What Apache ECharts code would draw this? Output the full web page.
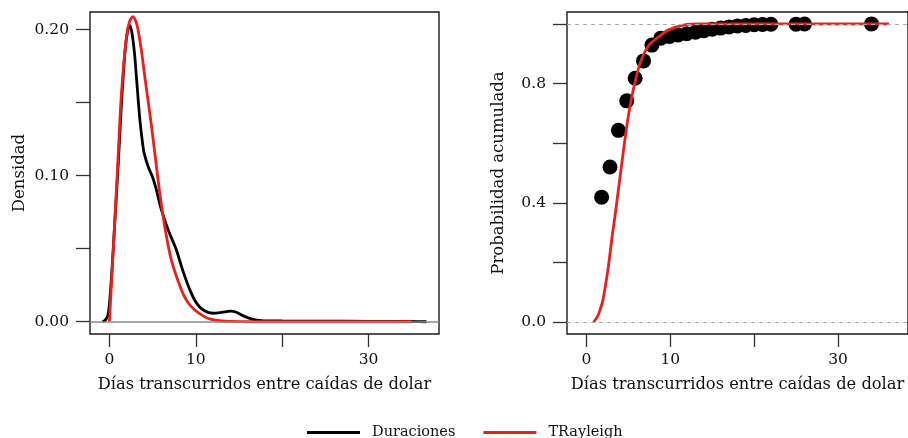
<!DOCTYPE html>
<html><head><meta charset="utf-8">
<script src="https://cdn.jsdelivr.net/npm/echarts@6/dist/echarts.min.js"></script>
<style>html,body{margin:0;padding:0;background:#fff}#c{width:908px;height:438px}</style>
</head><body><div id="c"></div>
<script>
// ---- data ----
const legendNames = ['Duraciones', 'TRayleigh'];
const xTickValues = [0, 10, 20, 30];
const xTickLabels = [0, 10, 30];
const densTickValues = [0, 0.05, 0.10, 0.15, 0.20];
const densTickLabels = [0, 0.10, 0.20];
const probTickValues = [0, 0.2, 0.4, 0.6, 0.8, 1.0];
const probTickLabels = [0, 0.4, 0.8];

// empirical density (black)
const durDensX = [-0.8, -0.5, -0.2, 0, 0.3, 0.6, 1.0, 1.4, 1.8, 2.1, 2.35, 2.6, 2.9, 3.12, 3.5, 3.8, 4.0, 4.5, 5.0, 5.45, 6.0, 6.8, 7.76, 8.5, 9.3, 10.1, 11.0, 12.0, 13.0, 14.0, 14.7, 15.5, 16.5, 17.6, 20, 25, 30, 34, 36.7];
const durDensY = [0, 0.001, 0.004, 0.012, 0.036, 0.066, 0.106, 0.15, 0.185, 0.199, 0.203, 0.198, 0.184, 0.168, 0.140, 0.124, 0.116, 0.106, 0.099, 0.090, 0.077, 0.063, 0.049, 0.035, 0.022, 0.0126, 0.0075, 0.0058, 0.0064, 0.0073, 0.0065, 0.004, 0.0018, 0.0008, 0.0005, 0.0004, 0.0003, 0.0003, 0];

// fitted density (red)
const rayDensX = [0, 0.5, 0.93, 1.39, 1.97, 2.35, 2.73, 3.1, 3.31, 3.7, 4.09, 4.87, 5.45, 5.83, 6.41, 7.18, 8.34, 9.0, 9.88, 11.0, 11.8, 13.0, 14.0, 16.0, 35.0];
const rayDensY = [0, 0.056, 0.104, 0.156, 0.195, 0.206, 0.209, 0.205, 0.200, 0.186, 0.168, 0.134, 0.106, 0.088, 0.065, 0.042, 0.0217, 0.014, 0.008, 0.0035, 0.0016, 0.0005, 0.0002, 0, 0];

// empirical cumulative (black points)
const ecdfX = [1.8, 2.8, 3.8, 4.8, 5.8, 6.8, 7.8, 8.85, 9.9, 10.9, 11.95, 13, 14, 15, 16, 17, 18, 19, 20, 21, 22, 25, 26, 34];
const ecdfY = [0.419, 0.520, 0.643, 0.742, 0.818, 0.876, 0.929, 0.952, 0.958, 0.963, 0.967, 0.972, 0.977, 0.982, 0.986, 0.990, 0.993, 0.995, 0.997, 0.998, 0.999, 0.9993, 0.9996, 1.0];

// fitted cumulative (red)
const rayCdfX = [0.85, 1.3, 1.6, 1.94, 2.3, 2.6, 3.1, 3.38, 3.6, 4.15, 4.73, 5.31, 5.9, 6.48, 7.46, 8.62, 9.8, 11.7, 13.6, 20, 36.1];
const rayCdfY = [0, 0.018, 0.040, 0.072, 0.13, 0.185, 0.297, 0.352, 0.40, 0.52, 0.643, 0.742, 0.818, 0.876, 0.929, 0.957, 0.980, 0.997, 1.0, 1.0, 1.0];

// ---- chart ----
const F = 'DejaVu Serif';
const RED = '#e8211f';
const TXT = '#111';
const zip = (a, b) => a.map((v, i) => [v, b[i]]);

function xAxisCfg(gi, min, max) {
  return {
    type: 'value', gridIndex: gi, min: min, max: max,
    name: 'Días transcurridos entre caídas de dolar', nameLocation: 'middle', nameGap: 43,
    nameTextStyle: { fontFamily: F, fontSize: 16.3, color: TXT },
    axisLine: { show: false, onZero: false },
    axisTick: { show: true, length: 13, lineStyle: { color: '#333', width: 1.3 }, customValues: xTickValues },
    axisLabel: { customValues: xTickLabels, margin: 18, fontFamily: F, fontSize: 15.5, color: TXT, formatter: v => String(v) },
    splitLine: { show: false }
  };
}
function yAxisCfg(gi, min, max, name, gap, ticks, labels, dec) {
  return {
    type: 'value', gridIndex: gi, min: min, max: max,
    name: name, nameLocation: 'middle', nameGap: gap,
    nameTextStyle: { fontFamily: F, fontSize: 16.5, color: TXT },
    axisLine: { show: false, onZero: false },
    axisTick: { show: true, length: 14, lineStyle: { color: '#333', width: 1.3 }, customValues: ticks },
    axisLabel: { customValues: labels, margin: 21, fontFamily: F, fontSize: 15.5, color: TXT, formatter: v => v.toFixed(dec) },
    splitLine: { show: false }
  };
}

const chart = echarts.init(document.getElementById('c'), null, { renderer: 'canvas' });
chart.setOption({
  animation: false,
  backgroundColor: '#fff',
  grid: [
    { left: 90, top: 12, width: 349, height: 322, show: true, borderColor: '#1a1a1a', borderWidth: 1.4, backgroundColor: 'transparent' },
    { left: 567, top: 12, width: 349, height: 322, show: true, borderColor: '#1a1a1a', borderWidth: 1.4, backgroundColor: 'transparent' }
  ],
  xAxis: [xAxisCfg(0, -2.25, 38.16), xAxisCfg(1, -2.33, 38.35)],
  yAxis: [
    yAxisCfg(0, -0.0084, 0.2121, 'Densidad', 62, densTickValues, densTickLabels, 2),
    yAxisCfg(1, -0.04, 1.04, 'Probabilidad acumulada', 60, probTickValues, probTickLabels, 1)
  ],
  legend: {
    left: 302, top: 420, itemWidth: 53, itemHeight: 3, itemGap: 28, icon: 'rect', selectedMode: false,
    data: [
      { name: legendNames[0], itemStyle: { color: '#000' } },
      { name: legendNames[1], itemStyle: { color: RED } }
    ],
    textStyle: { fontFamily: F, fontSize: 14.5, color: TXT, padding: [0, 0, 0, 7] }
  },
  series: [
    { type: 'line', xAxisIndex: 0, yAxisIndex: 0, data: [], silent: true, z: 1,
      markLine: { silent: true, symbol: ['none', 'none'], label: { show: false },
        lineStyle: { color: '#8a8a8a', width: 1.5, type: 'solid' }, data: [{ yAxis: 0 }] } },
    { name: legendNames[0], type: 'line', xAxisIndex: 0, yAxisIndex: 0, z: 2, data: zip(durDensX, durDensY),
      showSymbol: false, smooth: 0.3, lineStyle: { color: '#000', width: 2.8 }, itemStyle: { color: '#000' } },
    { name: legendNames[1], type: 'line', xAxisIndex: 0, yAxisIndex: 0, z: 3, data: zip(rayDensX, rayDensY),
      showSymbol: false, smooth: 0.3, lineStyle: { color: RED, width: 2.8 }, itemStyle: { color: RED } },

    { type: 'line', xAxisIndex: 1, yAxisIndex: 1, data: [], silent: true, z: 1,
      markLine: { silent: true, symbol: ['none', 'none'], label: { show: false },
        lineStyle: { color: '#aaaaaa', width: 1, type: [4, 4] }, data: [{ yAxis: 0 }, { yAxis: 1 }] } },
    { name: legendNames[0], type: 'scatter', xAxisIndex: 1, yAxisIndex: 1, z: 2, data: zip(ecdfX, ecdfY),
      symbol: 'circle', symbolSize: 15, itemStyle: { color: '#000', opacity: 1 } },
    { name: legendNames[1], type: 'line', xAxisIndex: 1, yAxisIndex: 1, z: 3, data: zip(rayCdfX, rayCdfY),
      showSymbol: false, smooth: 0.3, lineStyle: { color: RED, width: 2.8 }, itemStyle: { color: RED } }
  ]
});
</script>
</body></html>
